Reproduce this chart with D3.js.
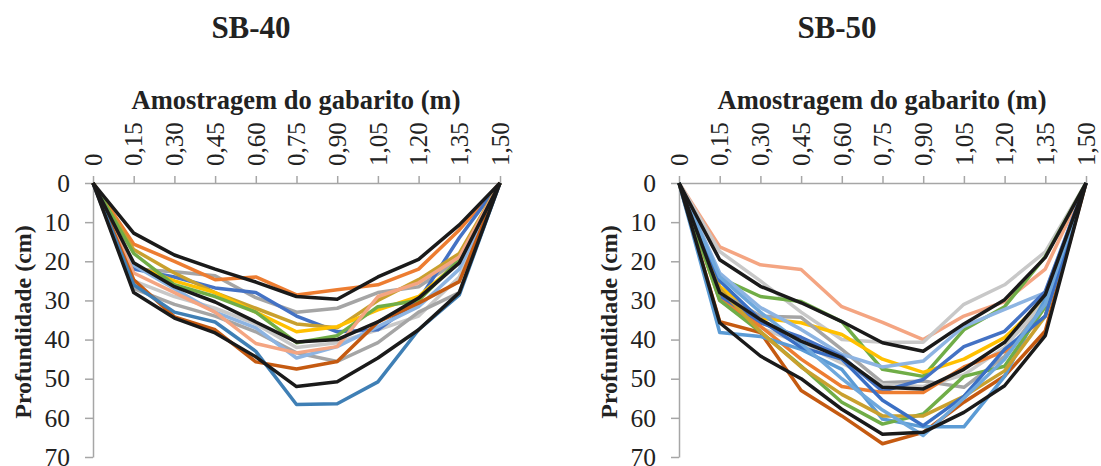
<!DOCTYPE html>
<html>
<head>
<meta charset="utf-8">
<script src="https://cdn.jsdelivr.net/npm/d3@7"></script>
<style>
  body { margin: 0; background: #fff; }
  text { font-family: "Liberation Serif", "Times New Roman", serif; fill: #222; }
</style>
</head>
<body>
<div id="chart"></div>
<script>
// sampling positions along the template (m)
var positions = [0, 0.15, 0.30, 0.45, 0.60, 0.75, 0.90, 1.05, 1.20, 1.35, 1.50];
var positionLabels = ["0", "0,15", "0,30", "0,45", "0,60", "0,75", "0,90", "1,05", "1,20", "1,35", "1,50"];
var depthTicks = [0, 10, 20, 30, 40, 50, 60, 70];

// SB-40 profiles (depth in cm)
var sb40Colors = ["#C8C8C8", "#A5A5A5", "#A5A5A5", "#ED7D31", "#4472C4", "#C9A02E", "#FFC000",
                  "#70AD47", "#8DB4E2", "#F4A582", "#C55A11", "#3F7FB5", "#1A1A1A", "#1A1A1A", "#1A1A1A"];
var sb40Depths = [
  [0, 25, 29, 32, 36, 42, 40.8, 37.5, 34, 24, 0],
  [0, 27, 31, 34, 38, 43.4, 45.6, 40.8, 33, 28, 0],
  [0, 22, 22.7, 23.7, 29.3, 33, 32, 28, 26.5, 19.6, 0],
  [0, 15.6, 20, 24.7, 24, 28.6, 27.3, 26, 22, 12, 0],
  [0, 22, 24, 26.8, 28, 34, 38, 37.5, 30, 14, 0],
  [0, 17, 23, 28, 32, 36, 37, 30, 24.7, 18, 0],
  [0, 21, 25, 28, 33, 38, 36.7, 32.4, 29, 20, 0],
  [0, 18, 26, 29, 33, 40.8, 39, 31.6, 30, 19.6, 0],
  [0, 21, 27, 33, 37, 44.7, 41.8, 36.7, 31.6, 22, 0],
  [0, 23, 28, 33, 41, 43.4, 41.8, 29, 25.5, 18.9, 0],
  [0, 24.7, 34.2, 37.5, 45.7, 47.5, 45.6, 35.5, 30.7, 25.2, 0],
  [0, 26, 33, 35.5, 43, 56.6, 56.4, 50.8, 37.5, 28.6, 0],
  [0, 12.8, 18.4, 22, 25.3, 29, 29.7, 24, 19.5, 10.7, 0],
  [0, 20.4, 26.5, 30.4, 35.5, 40.6, 40, 35.5, 29.4, 20.4, 0],
  [0, 28, 34.5, 38.3, 44.4, 52, 50.8, 44.7, 37.5, 28, 0]
];

// SB-50 profiles (depth in cm)
var sb50Colors = ["#F4A582", "#C8C8C8", "#70AD47", "#FFC000", "#A5A5A5", "#C8C8C8", "#8DB4E2", "#4472C4",
                  "#ED7D31", "#C55A11", "#5B9BD5", "#70AD47", "#C9A02E", "#3A6FC4", "#6FA8DC",
                  "#1A1A1A", "#1A1A1A", "#1A1A1A"];
var sb50Depths = [
  [0, 16.3, 20.9, 22.1, 31.6, 35.6, 40, 34, 30.3, 22, 0],
  [0, 17.5, 25, 33, 40, 40.7, 40.7, 31, 26, 17.6, 0],
  [0, 24.2, 29, 30.3, 35.4, 47.6, 49.4, 37.5, 31.6, 18.8, 0],
  [0, 26.4, 34.5, 35.7, 38.7, 45, 48.4, 45, 39.5, 29.8, 0],
  [0, 28, 34, 34.3, 42.5, 51, 50.6, 52.2, 44.3, 30.6, 0],
  [0, 30, 37, 41, 46, 51.5, 52, 49, 42, 30, 0],
  [0, 23, 31.8, 37.4, 43.8, 47, 45.5, 36.6, 32.3, 28, 0],
  [0, 29, 35.7, 39.4, 44.3, 53.2, 50.2, 41.8, 37.9, 27.7, 0],
  [0, 29.8, 36.6, 45, 52, 53.5, 53.5, 47, 43, 34, 0],
  [0, 35.4, 38.2, 53, 59.5, 66.6, 63.7, 56, 49.3, 37.8, 0],
  [0, 38.2, 39.2, 42.5, 47.6, 60.3, 62.3, 62.3, 49.4, 29.6, 0],
  [0, 30, 38, 46.8, 56, 61.6, 59, 49.4, 46.8, 31.6, 0],
  [0, 27, 38, 47, 54, 59.5, 59.5, 54.5, 48, 34, 0],
  [0, 25, 35, 42, 45, 55.5, 62, 54.5, 42.5, 34, 0],
  [0, 24, 33, 41, 50, 58, 64.5, 55, 45, 31, 0],
  [0, 19.6, 26.4, 30.6, 35.4, 40.8, 43, 36, 29.8, 19, 0],
  [0, 28, 34.9, 40.4, 44.6, 52.2, 52.6, 47.6, 40.7, 28.5, 0],
  [0, 35.7, 44.2, 50, 57.8, 64.2, 63.7, 58.6, 51.8, 39, 0]
];

var W = 1101, H = 466;
var svg = d3.select("#chart").append("svg")
    .attr("width", W)
    .attr("height", H);

function panel(title, left, colors, depths) {
    var x = d3.scaleLinear().domain([0, 1.5]).range([left, left + 407]);
    var y = d3.scaleLinear().domain([0, 70]).range([183, 457]);

    svg.append("text")
        .attr("x", left + 158)
        .attr("y", 38)
        .attr("text-anchor", "middle")
        .attr("font-size", 31)
        .attr("font-weight", "bold")
        .text(title);

    svg.append("text")
        .attr("x", left + 203)
        .attr("y", 109)
        .attr("text-anchor", "middle")
        .attr("font-size", 26.5)
        .attr("font-weight", "bold")
        .text("Amostragem do gabarito (m)");

    svg.append("text")
        .attr("transform", "translate(" + (left - 62) + ",322) rotate(-90)")
        .attr("text-anchor", "middle")
        .attr("font-size", 24)
        .attr("font-weight", "bold")
        .text("Profundidade (cm)");

    // x axis on top
    var xAxis = d3.axisTop(x)
        .tickValues(positions)
        .tickSize(7)
        .tickSizeOuter(0)
        .tickFormat(function(d, i) { return positionLabels[i]; });
    var gx = svg.append("g").attr("transform", "translate(0,183)").call(xAxis);
    gx.selectAll("text")
        .attr("font-size", 25)
        .attr("fill", "#222")
        .attr("text-anchor", "start")
        .attr("transform", "translate(0,-17) rotate(-90)")
        .attr("x", 0)
        .attr("y", 0)
        .attr("dy", "0.33em");

    // y axis
    var yAxis = d3.axisLeft(y)
        .tickValues(depthTicks)
        .tickSize(8)
        .tickSizeOuter(0)
        .tickPadding(15);
    var gy = svg.append("g").attr("transform", "translate(" + left + ",0)").call(yAxis);
    gy.selectAll("text")
        .attr("font-size", 25.5)
        .attr("fill", "#222");

    svg.selectAll(".domain, .tick line")
        .attr("stroke", "#A6A6A6")
        .attr("stroke-width", 1.5);

    var line = d3.line()
        .x(function(d, i) { return x(positions[i]); })
        .y(function(d) { return y(d); });

    svg.append("g").selectAll("path")
        .data(depths)
        .enter()
        .append("path")
        .attr("d", line)
        .attr("fill", "none")
        .attr("stroke", function(d, i) { return colors[i]; })
        .attr("stroke-width", 3.5)
        .attr("stroke-linejoin", "round");
}

panel("SB-40", 93, sb40Colors, sb40Depths);
panel("SB-50", 679, sb50Colors, sb50Depths);
</script>
</body>
</html>
